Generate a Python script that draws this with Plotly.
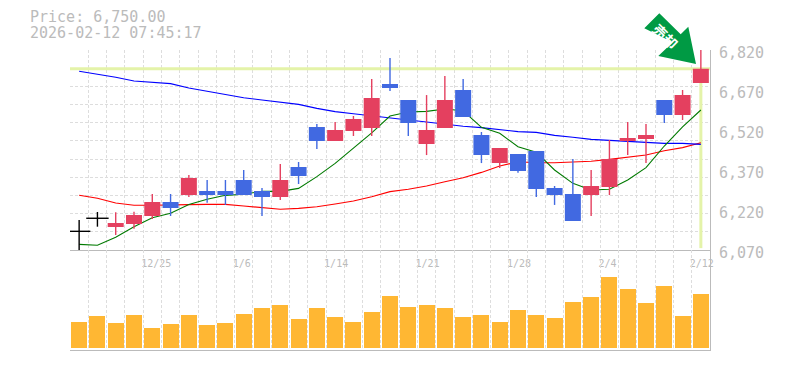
import plotly.graph_objects as go

# --- data ---
open_px = [6140,6189,6156,6167.5,6197.5,6250,6276,6291,6291,6332.5,6291,6269,6381,6531,6479,6516,6527.5,6692.5,6632.5,6467.5,6527.5,6670,6501,6396,6430,6441,6302.5,6280,6276,6306,6479,6486,6632.5,6576,6696]
close_px = [6140,6189,6171,6201,6250,6227.5,6340,6276,6276,6276,6269,6332.5,6347.5,6479,6520,6561,6640,6677.5,6546,6520,6632.5,6569,6426,6452.5,6366,6299,6276,6179,6310,6411,6490,6501,6576,6651,6750]
high_px = [6182.5,6212.5,6212,6213.6,6280,6280,6351,6332.5,6332.5,6370,6302.5,6392.5,6400,6542.5,6550,6572.5,6711,6790,6632.5,6651,6722.5,6711,6512.5,6452.5,6430,6441,6310,6411,6370,6482.5,6550,6542.5,6632.5,6670,6820]
low_px = [6070,6157.4,6126,6150,6186,6197.5,6269,6247,6239,6276,6197.5,6257.5,6317.5,6449,6479,6497.5,6497.5,6666,6497.5,6426,6527.5,6569,6396,6377.5,6360,6269,6239,6179,6197.5,6276,6426,6396,6546,6557.5,6696]
ma_blue = [6740,6730,6718,6704,6699,6694,6677.5,6665,6652,6641,6632.5,6624,6616,6601,6589,6581,6572.5,6565,6557.5,6550,6541,6534,6529,6522,6514,6511,6500,6493,6485,6481,6478,6474,6470,6470,6466]
ma_red = [6275,6264,6246,6238,6238,6238,6240,6241,6241,6235,6229,6223,6226,6232,6242.5,6254,6270,6289,6298,6310,6326,6341,6361,6385,6401,6397,6397,6399,6403,6410,6418,6426,6442,6454,6472]
ma_green = [6091,6088,6118,6157,6191,6208,6241,6260,6275,6279,6290,6290,6301,6345,6395,6451,6509,6572.5,6587.5,6590,6599,6592,6530,6508,6457,6437,6370,6320,6295,6298,6332.5,6379,6460,6532,6595]
volume = [26,32,25,33,20,24,33,23,25,34,40,43,29,40,31,26,36,52,41,43,40,31,33,26,38,33,30,46,51,71,59,45,62,32,54]
date_idx = [4,9,14,19,24,29,34]
date_labels = ["12/25","1/6","1/14","1/21","1/28","2/4","2/12"]
price_ticks = [6070,6220,6370,6520,6670,6820]
last_price = 6750

RED, BLUE, BLACK = "#e4405f", "#4169e1", "#000000"
GRID, AXIS, TXT = "#dddddd", "#bbbbbb", "#bbbbbb"
MONO = "DejaVu Sans Mono"
idx = list(range(len(open_px)))

def kind(i):
    if open_px[i] == close_px[i]:
        return BLACK
    return RED if close_px[i] > open_px[i] else BLUE

fig = go.Figure()
fig.add_trace(go.Scatter(x=[-0.5, 34.5, None, idx[-1], idx[-1]], y=[last_price, last_price, None, last_price, 6077],
                         mode="lines", line=dict(color="#e4f3a9", width=3), xaxis="x", yaxis="y", hoverinfo="skip"))
for vals, col in [(ma_red, "#ff0000"), (ma_blue, "#0000ff"), (ma_green, "#007a00")]:
    fig.add_trace(go.Scatter(x=idx, y=vals, mode="lines", line=dict(color=col, width=1.1),
                             xaxis="x", yaxis="y", hoverinfo="skip"))
for col in (RED, BLUE, BLACK):
    xs, ys = [], []
    for i in idx:
        if kind(i) == col:
            xs += [i, i, None]
            ys += [low_px[i], high_px[i], None]
    fig.add_trace(go.Scatter(x=xs, y=ys, mode="lines", line=dict(color=col, width=1.4),
                             xaxis="x", yaxis="y", hoverinfo="skip"))
for col in (RED, BLUE):
    sel = [i for i in idx if kind(i) == col]
    fig.add_trace(go.Scatter(
        x=[x for i in sel for x in (i-0.4375, i+0.4375, i+0.4375, i-0.4375, i-0.4375, None)],
        y=[v for i in sel for v in (open_px[i], open_px[i], close_px[i], close_px[i], open_px[i], None)],
        mode="lines", line=dict(width=0, color=col), fill="toself", fillcolor=col,
        xaxis="x", yaxis="y", hoverinfo="skip"))
doji = [i for i in idx if kind(i) == BLACK]
fig.add_trace(go.Scatter(x=doji, y=[close_px[i] for i in doji], mode="markers",
                         marker=dict(symbol="line-ew", size=16, line=dict(color=BLACK, width=1.4)),
                         xaxis="x", yaxis="y", hoverinfo="skip"))
fig.add_trace(go.Bar(x=idx, y=volume, marker=dict(color="#ffb733", line_width=0), width=0.875,
                     xaxis="x2", yaxis="y2", hoverinfo="skip"))

minor_x = dict(tickmode="linear", tick0=-0.5, dtick=1, showgrid=True, gridcolor=GRID,
               griddash="3px,2px", gridwidth=1, ticks="")
padded = [t + "\u00a0" * (5 - len(t)) for t in date_labels]

def px2paper(x, y):
    return (x - 70) / 640, (350 - y) / 300

arrow_pts = [(644.3,28.3),(659.3,13.3),(680.7,34.3),(688.3,26.7),(696,64),(658.3,56),(672.7,42.3)]
path = "M " + " L ".join("%.5f %.5f" % px2paper(*p) for p in arrow_pts) + " Z"
tx, ty1 = px2paper(29, 17.5)
_, ty2 = px2paper(29, 33)
ax, ay = px2paper(665.5, 35.5)

fig.update_layout(
    width=785, height=370, showlegend=False, plot_bgcolor="white", paper_bgcolor="white",
    margin=dict(l=70, r=75, t=50, b=20, pad=0), bargap=0, barmode="overlay",
    xaxis=dict(domain=[0, 1], anchor="y", range=[-0.5, 34.5], tickmode="array", tickvals=date_idx,
               ticktext=padded, showgrid=False, minor=minor_x, zeroline=False, showline=True,
               linecolor=AXIS, linewidth=1, ticks="", ticklabelshift=4, ticklabelstandoff=4,
               automargin=False, tickfont=dict(family=MONO, size=10, color=TXT)),
    xaxis2=dict(domain=[0, 1], anchor="y2", range=[-0.5, 34.5], showticklabels=False, showgrid=False,
                minor=minor_x, zeroline=False, showline=True, linecolor=AXIS, linewidth=1, ticks="",
                automargin=False),
    yaxis=dict(domain=[1/3, 1], anchor="x", side="right", range=[6070, 6820], tickmode="array",
               tickvals=price_ticks, ticktext=[f"{v:,}" for v in price_ticks], showgrid=False,
               minor=dict(tickmode="linear", tick0=6070, dtick=750/11, showgrid=True, gridcolor=GRID,
                          griddash="3px,2px", gridwidth=1, ticks=""),
               zeroline=False, showline=True, linecolor=AXIS, linewidth=1, ticks="",
               ticklabelshift=3, ticklabelstandoff=5, automargin=False,
               tickfont=dict(family=MONO, size=15, color=TXT)),
    yaxis2=dict(domain=[0, 1/3], anchor="x2", side="right", range=[-2, 98], showticklabels=False,
                showgrid=False, zeroline=False, showline=True, linecolor=AXIS, linewidth=1, ticks="",
                automargin=False),
    shapes=[
        dict(type="path", xref="paper", yref="paper", path=path, fillcolor="#009a44",
             line=dict(width=0), layer="above"),
    ],
    annotations=[
        dict(text="Price: 6,750.00", xref="paper", yref="paper", x=tx, y=ty1, xanchor="left",
             yanchor="middle", showarrow=False, borderpad=0, font=dict(family=MONO, size=15, color=TXT)),
        dict(text="2026-02-12 07:45:17", xref="paper", yref="paper", x=tx, y=ty2, xanchor="left",
             yanchor="middle", showarrow=False, borderpad=0, font=dict(family=MONO, size=15, color=TXT)),
        dict(text="<b>売却</b>", xref="paper", yref="paper", x=ax, y=ay, xanchor="center",
             yanchor="middle", showarrow=False, textangle=45,
             font=dict(family="Noto Sans CJK JP", size=14, color="white")),
    ],
)
fig.write_html("out.html", config=dict(displayModeBar=False),
               post_script="document.body.style.margin='0';")
